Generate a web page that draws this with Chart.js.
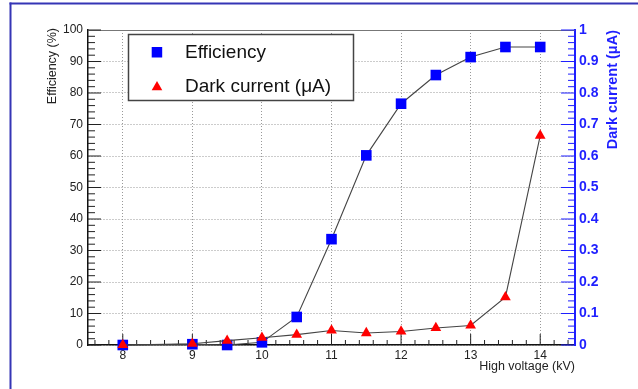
<!DOCTYPE html>
<html lang="en">
<head>
<meta charset="UTF-8">
<title>Efficiency and dark current vs high voltage</title>
<script src="https://cdn.jsdelivr.net/npm/chart.js"></script>
<style>
  html, body { margin: 0; padding: 0; background: #fff; overflow: hidden; }
  #wrap { width: 638px; height: 389px; }
</style>
</head>
<body>
<div id="wrap"><canvas id="hvChart"></canvas></div>
<script>
// data
const voltages = [8, 9, 9.5, 10, 10.5, 11, 11.5, 12, 12.5, 13, 13.5, 14];
const efficiency = [0, 0.25, 0, 0.85, 8.9, 33.6, 60.2, 76.6, 85.7, 91.4, 94.6, 94.6];
const darkCurrent = [0, 0.004, 0.014, 0.023, 0.033, 0.046, 0.038, 0.043, 0.054, 0.062, 0.152, 0.665];
const xTicks = [8, 9, 10, 11, 12, 13, 14];
const effTicks = [0, 10, 20, 30, 40, 50, 60, 70, 80, 90, 100];
const dcTicks = [0, 0.1, 0.2, 0.3, 0.4, 0.5, 0.6, 0.7, 0.8, 0.9, 1];

const FONT = "'Liberation Sans', Arial, sans-serif";
const BLUE = '#1f1fff';

function toPoints(ys) {
  return voltages.map((x, i) => ({ x: x, y: ys[i] }));
}

// white page + blue frame (left and top only)
const framePlugin = {
  id: 'frame',
  beforeDraw(chart) {
    const ctx = chart.ctx;
    ctx.save();
    ctx.fillStyle = '#fff';
    ctx.fillRect(0, 0, chart.width, chart.height);
    ctx.fillStyle = '#3535b5';
    ctx.fillRect(9.5, 2.5, 2, chart.height - 2.5);
    ctx.fillRect(9.5, 2.5, chart.width - 9.5, 2);
    ctx.restore();
  }
};

// ROOT style ticks pointing into the frame
function tickRun(ctx, scale, minorStep, sub, majorLen, minorLen, side) {
  const a = scale.chart.chartArea;
  const kMin = Math.ceil(scale.min / minorStep - 1e-6);
  const kMax = Math.floor(scale.max / minorStep + 1e-6);
  ctx.beginPath();
  for (let k = kMin; k <= kMax; k++) {
    const v = k * minorStep;
    const len = (k % sub === 0) ? majorLen : minorLen;
    const p = scale.getPixelForValue(v);
    if (side === 'bottom') { ctx.moveTo(p, a.bottom); ctx.lineTo(p, a.bottom - len); }
    if (side === 'left') { ctx.moveTo(a.left, p); ctx.lineTo(a.left + len, p); }
    if (side === 'right') { ctx.moveTo(a.right, p); ctx.lineTo(a.right - len, p); }
  }
  ctx.stroke();
}

const innerTicksPlugin = {
  id: 'innerTicks',
  beforeDatasetsDraw(chart) {
    const ctx = chart.ctx;
    const a = chart.chartArea;
    ctx.save();
    // top edge of the frame
    ctx.strokeStyle = '#777';
    ctx.lineWidth = 1;
    ctx.beginPath();
    ctx.moveTo(a.left, a.top + 0.5);
    ctx.lineTo(a.right, a.top + 0.5);
    ctx.stroke();

    ctx.strokeStyle = '#222';
    ctx.lineWidth = 1;
    tickRun(ctx, chart.scales.x, 0.2, 5, 11, 5, 'bottom');
    tickRun(ctx, chart.scales.y, 2, 5, 13, 7, 'left');
    ctx.strokeStyle = BLUE;
    tickRun(ctx, chart.scales.y2, 0.02, 5, 14, 7, 'right');
    ctx.restore();
  }
};

// axis titles and the legend box
const labelsPlugin = {
  id: 'labels',
  afterDraw(chart) {
    const ctx = chart.ctx;
    const a = chart.chartArea;
    ctx.save();
    ctx.textBaseline = 'middle';

    ctx.fillStyle = '#222';
    ctx.font = '12.5px ' + FONT;
    ctx.save();
    ctx.translate(53, a.top - 2);
    ctx.rotate(-Math.PI / 2);
    ctx.textAlign = 'right';
    ctx.fillText('Efficiency (%)', 0, 0);
    ctx.restore();

    ctx.textAlign = 'right';
    ctx.fillText('High voltage (kV)', a.right, 367);

    ctx.fillStyle = BLUE;
    ctx.font = 'bold 14.5px ' + FONT;
    ctx.save();
    ctx.translate(613, a.top);
    ctx.rotate(-Math.PI / 2);
    ctx.textAlign = 'right';
    ctx.fillText('Dark current (\u03bcA)', 0, 0);
    ctx.restore();

    // legend
    ctx.fillStyle = '#fff';
    ctx.fillRect(128.5, 34.5, 225, 66);
    ctx.strokeStyle = '#444';
    ctx.lineWidth = 1.5;
    ctx.strokeRect(128.5, 34.5, 225, 66);

    ctx.fillStyle = '#0000ff';
    ctx.fillRect(151.7, 47, 10.5, 10.5);
    ctx.fillStyle = '#ff0000';
    ctx.beginPath();
    ctx.moveTo(157, 81);
    ctx.lineTo(162.3, 90.2);
    ctx.lineTo(151.7, 90.2);
    ctx.closePath();
    ctx.fill();

    ctx.fillStyle = '#111';
    ctx.font = '19px ' + FONT;
    ctx.textAlign = 'left';
    ctx.fillText('Efficiency', 185, 53);
    ctx.fillText('Dark current (\u03bcA)', 185, 87);
    ctx.restore();
  }
};

const ctx = document.getElementById('hvChart').getContext('2d');
new Chart(ctx, {
  type: 'line',
  data: {
    datasets: [{
      label: 'Efficiency',
      data: toPoints(efficiency),
      yAxisID: 'y',
      order: 1,
      borderColor: '#444',
      borderWidth: 1.1,
      tension: 0,
      pointStyle: 'rect',
      pointRadius: 7.5,
      pointBackgroundColor: '#0000ff',
      pointBorderColor: '#0000ff',
      pointBorderWidth: 0,
      clip: false
    }, {
      label: 'Dark current (\u03bcA)',
      data: toPoints(darkCurrent),
      yAxisID: 'y2',
      order: 0,
      borderColor: '#444',
      borderWidth: 1.1,
      tension: 0,
      pointStyle: 'triangle',
      pointRadius: 6.2,
      pointBackgroundColor: '#ff0000',
      pointBorderColor: '#ff0000',
      pointBorderWidth: 0,
      clip: false
    }]
  },
  options: {
    responsive: true,
    maintainAspectRatio: false,
    animation: false,
    layout: { padding: { top: 30, left: 0, right: 0, bottom: 0 } },
    plugins: {
      legend: { display: false },
      tooltip: { enabled: false }
    },
    scales: {
      x: {
        type: 'linear',
        min: 7.5,
        max: 14.5,
        afterBuildTicks: s => { s.ticks = xTicks.map(v => ({ value: v })); },
        afterFit: s => { s.height = 44; },
        grid: { color: '#999', lineWidth: 1, drawTicks: false },
        border: { color: '#111', width: 1.5, dash: [1, 2] },
        ticks: { color: '#222', padding: 3, font: { family: FONT, size: 12 } }
      },
      y: {
        position: 'left',
        min: 0,
        max: 100,
        afterBuildTicks: s => { s.ticks = effTicks.map(v => ({ value: v })); },
        afterFit: s => { s.width = 88; },
        grid: { color: '#999', lineWidth: 1, drawTicks: false },
        border: { color: '#111', width: 1.5, dash: [1, 2] },
        ticks: { color: '#222', padding: 5, font: { family: FONT, size: 12 } }
      },
      y2: {
        position: 'right',
        min: 0,
        max: 1,
        afterBuildTicks: s => { s.ticks = dcTicks.map(v => ({ value: v })); },
        afterFit: s => { s.width = 63; },
        grid: { drawOnChartArea: false, drawTicks: false },
        border: { color: BLUE, width: 2 },
        ticks: {
          color: BLUE,
          padding: 4,
          font: { family: FONT, size: 14, weight: 'bold' },
          callback: v => String(Math.round(v * 10) / 10)
        }
      }
    }
  },
  plugins: [framePlugin, innerTicksPlugin, labelsPlugin]
});
</script>
</body>
</html>
